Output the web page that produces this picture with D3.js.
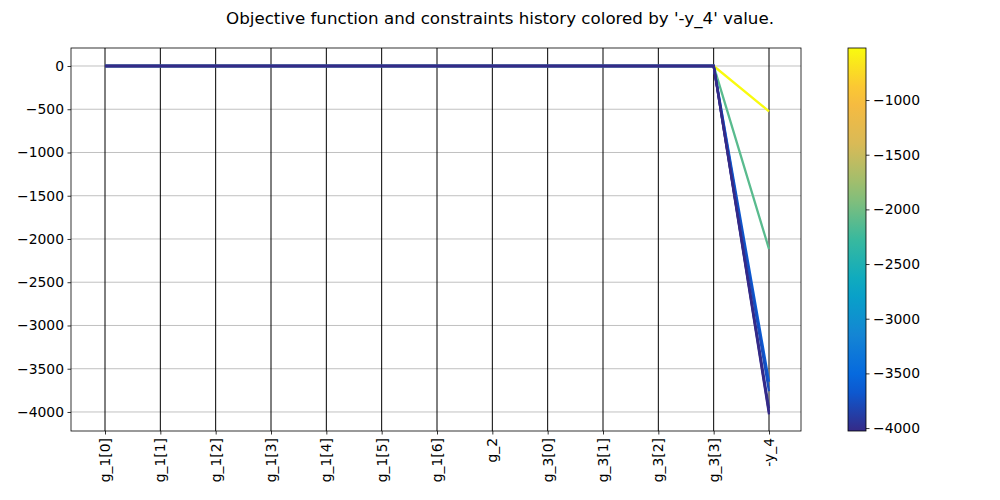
<!DOCTYPE html>
<html><head><meta charset="utf-8">
<script src="https://cdn.jsdelivr.net/npm/d3@7"></script>
<style>body{margin:0;background:#fff;}svg{font-family:"DejaVu Sans",sans-serif;}</style>
</head><body><svg id="c" width="1000" height="500"></svg>
<script>
const variables = ["g_1[0]","g_1[1]","g_1[2]","g_1[3]","g_1[4]","g_1[5]","g_1[6]","g_2","g_3[0]","g_3[1]","g_3[2]","g_3[3]","-y_4"];
const constraintValues = [0,0,0,0,0,0,0,0,0,0,0,0];
const objectiveValues = [-524, -2116, -3650, -3760, -3960, -4000, -4027];
const yTicks = [0,-500,-1000,-1500,-2000,-2500,-3000,-3500,-4000];
const cbTicks = [-1000,-1500,-2000,-2500,-3000,-3500,-4000];
const parulaStops = ["#352a87","#0363e1","#1485d4","#06a7c6","#38b99e","#92bf73","#d9ba56","#fcbb3c","#f9fb0e"];

const svg = d3.select("#c");
const L=71,R=801,T=48,B=431;
const FS=13.9;
const fmt = d => d<0 ? "\u2212"+Math.abs(d) : String(d);

const x = d3.scalePoint().domain(variables).range([105,769]);
const y = d3.scaleLinear().domain([208,-4220]).range([T,B]);
const cmin = d3.min(objectiveValues), cmax = d3.max(objectiveValues);
const cinterp = d3.piecewise(d3.interpolateRgb, parulaStops);
const color = v => cinterp((v-cmin)/(cmax-cmin));

// grid
svg.append("g").selectAll("line").data(yTicks).join("line")
  .attr("x1",L).attr("x2",R).attr("y1",d=>y(d)).attr("y2",d=>y(d))
  .attr("stroke","#b0b0b0").attr("stroke-width",0.8);
// vertical axes
svg.append("g").selectAll("line").data(variables).join("line")
  .attr("x1",d=>x(d)).attr("x2",d=>x(d)).attr("y1",T).attr("y2",B)
  .attr("stroke","#000").attr("stroke-width",1);

// lines
const rows = objectiveValues.map(o => constraintValues.concat([o]));
const line = d3.line().x((d,i)=>x(variables[i])).y(d=>y(d));
svg.append("g").selectAll("path").data(rows).join("path")
  .attr("d",line).attr("fill","none")
  .attr("stroke",d=>color(d[d.length-1])).attr("stroke-width",2.3);

// frame
svg.append("rect").attr("x",L).attr("y",T).attr("width",R-L).attr("height",B-T)
  .attr("fill","none").attr("stroke","#000").attr("stroke-width",0.8);

// y axis
const ya = svg.append("g").attr("transform",`translate(${L},0)`)
  .call(d3.axisLeft(y).tickValues(yTicks).tickSize(3.5).tickPadding(3.5).tickFormat(fmt));
ya.select(".domain").remove();
ya.selectAll("text").attr("font-size",FS).attr("fill","#000").attr("font-family","DejaVu Sans");
ya.selectAll("line").attr("stroke-width",0.8);

// x axis
const xa = svg.append("g").attr("transform",`translate(0,${B})`)
  .call(d3.axisBottom(x).tickSize(3.5).tickPadding(3.5));
xa.select(".domain").remove();
xa.selectAll("line").attr("stroke-width",0.8);
xa.selectAll("text").attr("font-size",FS).attr("fill","#000").attr("font-family","DejaVu Sans")
  .attr("transform","rotate(-90)").attr("text-anchor","end").attr("dy","0.32em")
  .attr("x",-7).attr("y",0);

// title
svg.append("text").attr("x",500).attr("y",24).attr("text-anchor","middle")
  .attr("font-size",16.7).attr("fill","#000").text("Objective function and constraints history colored by '-y_4' value.");

// colorbar
const CL=848,CR=866;
const cy = d3.scaleLinear().domain([cmax,cmin]).range([T,B]);
const defs = svg.append("defs");
const grad = defs.append("linearGradient").attr("id","g").attr("x1",0).attr("x2",0).attr("y1",1).attr("y2",0);
d3.range(0,1.0001,0.05).forEach(t=>grad.append("stop").attr("offset",t).attr("stop-color",cinterp(t)));
svg.append("rect").attr("x",CL).attr("y",T).attr("width",CR-CL).attr("height",B-T).attr("fill","url(#g)");
svg.append("rect").attr("x",CL).attr("y",T).attr("width",CR-CL).attr("height",B-T)
  .attr("fill","none").attr("stroke","#000").attr("stroke-width",0.8);
const ca = svg.append("g").attr("transform",`translate(${CR},0)`)
  .call(d3.axisRight(cy).tickValues(cbTicks).tickSize(3.5).tickPadding(3.5).tickFormat(fmt));
ca.select(".domain").remove();
ca.selectAll("text").attr("font-size",FS).attr("fill","#000").attr("font-family","DejaVu Sans");
ca.selectAll("line").attr("stroke-width",0.8);
</script></body></html>
